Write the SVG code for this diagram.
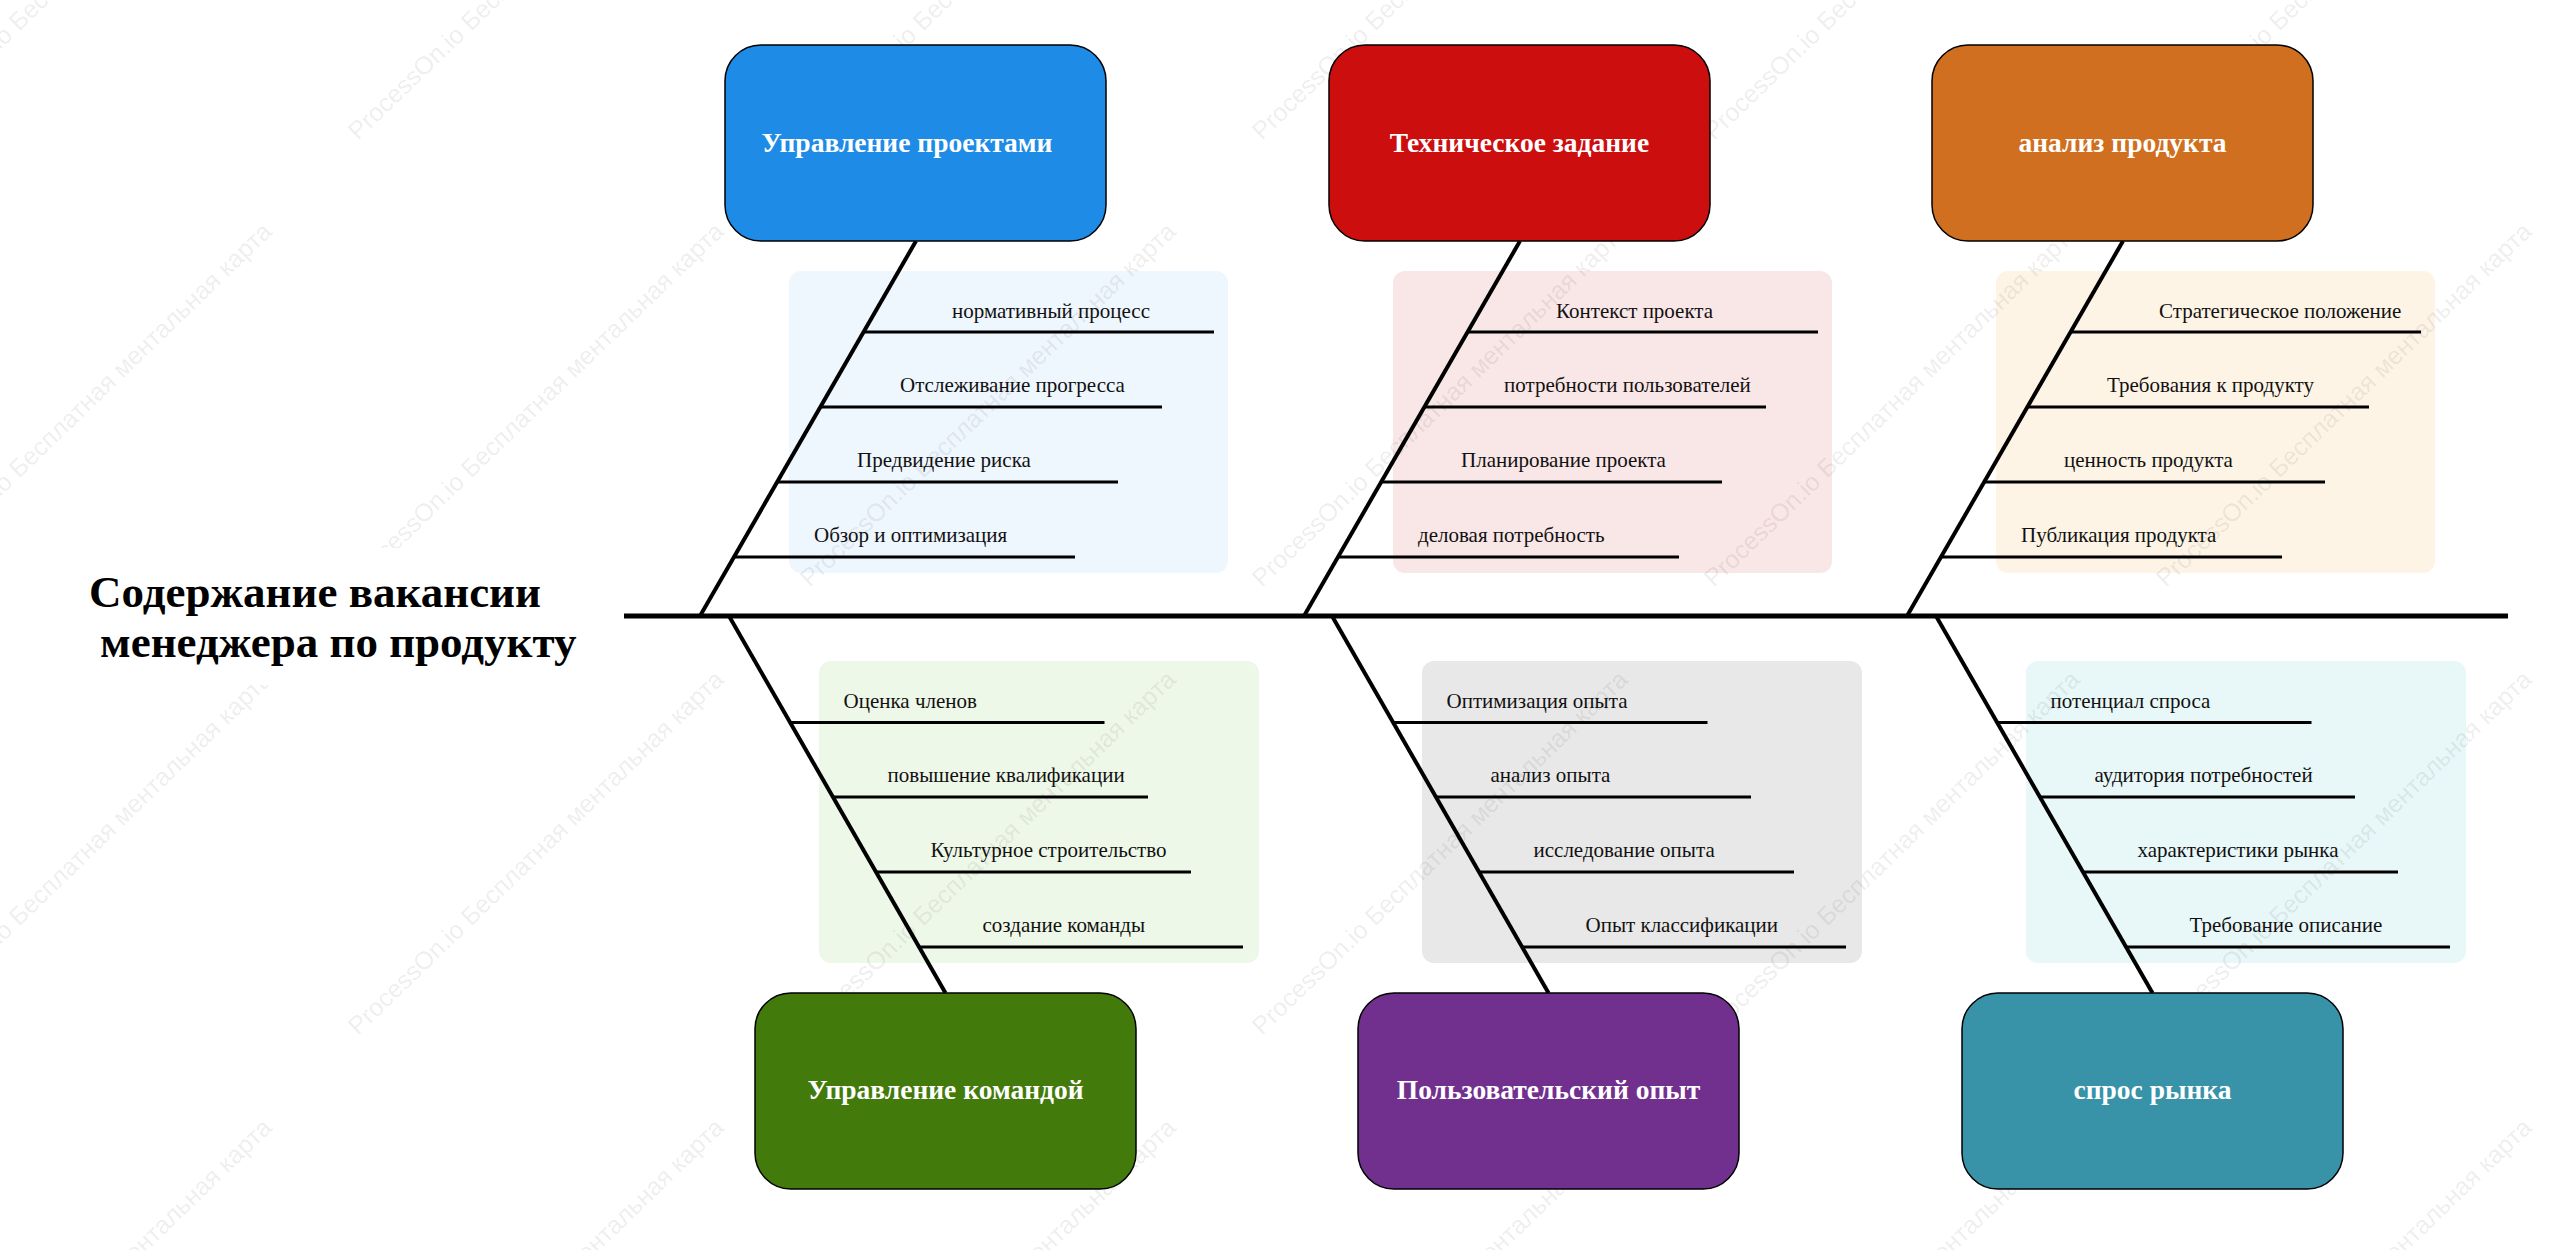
<svg xmlns="http://www.w3.org/2000/svg" width="2554" height="1250" viewBox="0 0 2554 1250">
<style>
.panel{stroke:none}
.item{font-family:"Liberation Serif","Times New Roman",serif;font-size:21px;fill:#111}
.box{stroke:#000;stroke-width:1.5}
.label{font-family:"Liberation Serif","Times New Roman",serif;font-size:27.5px;font-weight:bold;fill:#fff;text-anchor:middle}
.wm{font-family:"Liberation Sans",Arial,sans-serif;font-size:25px;fill:#000;fill-opacity:0.085}
.spine{stroke:#000;stroke-width:5;fill:none}
.bone{stroke:#000;stroke-width:4;fill:none}
.rib{stroke:#000;stroke-width:3;fill:none}
.title{font-family:"Liberation Serif","Times New Roman",serif;font-size:45px;font-weight:bold;fill:#000}
</style>
<rect x="0" y="0" width="2554" height="1250" fill="#fff"/>

<!-- item panels -->
<g id="items-project-management">
<rect class="panel" x="789" y="271" width="439" height="302" rx="12" fill="#EEF6FE"/>
<text class="item" x="952" y="318">нормативный процесс</text>
<text class="item" x="900" y="392">Отслеживание прогресса</text>
<text class="item" x="857" y="467">Предвидение риска</text>
<text class="item" x="814" y="542">Обзор и оптимизация</text>
</g>
<g id="items-technical-spec">
<rect class="panel" x="1393" y="271" width="439" height="302" rx="12" fill="#F9E6E6"/>
<text class="item" x="1556" y="318">Контекст проекта</text>
<text class="item" x="1504" y="392">потребности пользователей</text>
<text class="item" x="1461" y="467">Планирование проекта</text>
<text class="item" x="1418" y="542">деловая потребность</text>
</g>
<g id="items-product-analysis">
<rect class="panel" x="1996" y="271" width="439" height="302" rx="12" fill="#FDF4E6"/>
<text class="item" x="2159" y="318">Стратегическое положение</text>
<text class="item" x="2107" y="392">Требования к продукту</text>
<text class="item" x="2064" y="467">ценность продукта</text>
<text class="item" x="2021" y="542">Публикация продукта</text>
</g>
<g id="items-team-management">
<rect class="panel" x="819" y="661" width="440" height="302" rx="12" fill="#EEF8E8"/>
<text class="item" x="843.5" y="708">Оценка членов</text>
<text class="item" x="887.5" y="782">повышение квалификации</text>
<text class="item" x="930.5" y="857">Культурное строительство</text>
<text class="item" x="982.5" y="932">создание команды</text>
</g>
<g id="items-user-experience">
<rect class="panel" x="1422" y="661" width="440" height="302" rx="12" fill="#E8E8E8"/>
<text class="item" x="1446.5" y="708">Оптимизация опыта</text>
<text class="item" x="1490.5" y="782">анализ опыта</text>
<text class="item" x="1533.5" y="857">исследование опыта</text>
<text class="item" x="1585.5" y="932">Опыт классификации</text>
</g>
<g id="items-market-demand">
<rect class="panel" x="2026" y="661" width="440" height="302" rx="12" fill="#E8F7F8"/>
<text class="item" x="2050.5" y="708">потенциал спроса</text>
<text class="item" x="2094.5" y="782">аудитория потребностей</text>
<text class="item" x="2137.5" y="857">характеристики рынка</text>
<text class="item" x="2189.5" y="932">Требование описание</text>
</g>

<!-- watermark -->
<g id="watermark">
<text class="wm" transform="translate(-94,141) rotate(-44)">ProcessOn.io Бесплатная ментальная карта</text>
<text class="wm" transform="translate(358,141) rotate(-44)">ProcessOn.io Бесплатная ментальная карта</text>
<text class="wm" transform="translate(810,141) rotate(-44)">ProcessOn.io Бесплатная ментальная карта</text>
<text class="wm" transform="translate(1262,141) rotate(-44)">ProcessOn.io Бесплатная ментальная карта</text>
<text class="wm" transform="translate(1714,141) rotate(-44)">ProcessOn.io Бесплатная ментальная карта</text>
<text class="wm" transform="translate(2166,141) rotate(-44)">ProcessOn.io Бесплатная ментальная карта</text>
<text class="wm" transform="translate(-94,588) rotate(-44)">ProcessOn.io Бесплатная ментальная карта</text>
<text class="wm" transform="translate(358,588) rotate(-44)">ProcessOn.io Бесплатная ментальная карта</text>
<text class="wm" transform="translate(810,588) rotate(-44)">ProcessOn.io Бесплатная ментальная карта</text>
<text class="wm" transform="translate(1262,588) rotate(-44)">ProcessOn.io Бесплатная ментальная карта</text>
<text class="wm" transform="translate(1714,588) rotate(-44)">ProcessOn.io Бесплатная ментальная карта</text>
<text class="wm" transform="translate(2166,588) rotate(-44)">ProcessOn.io Бесплатная ментальная карта</text>
<text class="wm" transform="translate(-94,1036) rotate(-44)">ProcessOn.io Бесплатная ментальная карта</text>
<text class="wm" transform="translate(358,1036) rotate(-44)">ProcessOn.io Бесплатная ментальная карта</text>
<text class="wm" transform="translate(810,1036) rotate(-44)">ProcessOn.io Бесплатная ментальная карта</text>
<text class="wm" transform="translate(1262,1036) rotate(-44)">ProcessOn.io Бесплатная ментальная карта</text>
<text class="wm" transform="translate(1714,1036) rotate(-44)">ProcessOn.io Бесплатная ментальная карта</text>
<text class="wm" transform="translate(2166,1036) rotate(-44)">ProcessOn.io Бесплатная ментальная карта</text>
<text class="wm" transform="translate(-94,1484) rotate(-44)">ProcessOn.io Бесплатная ментальная карта</text>
<text class="wm" transform="translate(358,1484) rotate(-44)">ProcessOn.io Бесплатная ментальная карта</text>
<text class="wm" transform="translate(810,1484) rotate(-44)">ProcessOn.io Бесплатная ментальная карта</text>
<text class="wm" transform="translate(1262,1484) rotate(-44)">ProcessOn.io Бесплатная ментальная карта</text>
<text class="wm" transform="translate(1714,1484) rotate(-44)">ProcessOn.io Бесплатная ментальная карта</text>
<text class="wm" transform="translate(2166,1484) rotate(-44)">ProcessOn.io Бесплатная ментальная карта</text>
</g>

<!-- connectors -->
<g id="connectors">
<line class="spine" x1="624" y1="616" x2="2508" y2="616"/>
<line class="bone" x1="916" y1="241" x2="700" y2="616"/>
<line class="bone" x1="1520" y1="241" x2="1304" y2="616"/>
<line class="bone" x1="2123" y1="241" x2="1907" y2="616"/>
<line class="bone" x1="729" y1="616" x2="945.5" y2="993"/>
<line class="bone" x1="1332" y1="616" x2="1548.5" y2="993"/>
<line class="bone" x1="1936" y1="616" x2="2152.5" y2="993"/>
<line class="rib" x1="864" y1="332" x2="1214" y2="332"/>
<line class="rib" x1="821" y1="407" x2="1162" y2="407"/>
<line class="rib" x1="777" y1="482" x2="1118" y2="482"/>
<line class="rib" x1="734" y1="557" x2="1075" y2="557"/>
<line class="rib" x1="1468" y1="332" x2="1818" y2="332"/>
<line class="rib" x1="1425" y1="407" x2="1766" y2="407"/>
<line class="rib" x1="1381" y1="482" x2="1722" y2="482"/>
<line class="rib" x1="1338" y1="557" x2="1679" y2="557"/>
<line class="rib" x1="2071" y1="332" x2="2421" y2="332"/>
<line class="rib" x1="2028" y1="407" x2="2369" y2="407"/>
<line class="rib" x1="1984" y1="482" x2="2325" y2="482"/>
<line class="rib" x1="1941" y1="557" x2="2282" y2="557"/>
<line class="rib" x1="789.5" y1="722.5" x2="1104.5" y2="722.5"/>
<line class="rib" x1="833" y1="797" x2="1148" y2="797"/>
<line class="rib" x1="876" y1="872" x2="1191" y2="872"/>
<line class="rib" x1="919" y1="947" x2="1243" y2="947"/>
<line class="rib" x1="1392.5" y1="722.5" x2="1707.5" y2="722.5"/>
<line class="rib" x1="1436" y1="797" x2="1751" y2="797"/>
<line class="rib" x1="1479" y1="872" x2="1794" y2="872"/>
<line class="rib" x1="1522" y1="947" x2="1846" y2="947"/>
<line class="rib" x1="1996.5" y1="722.5" x2="2311.5" y2="722.5"/>
<line class="rib" x1="2040" y1="797" x2="2355" y2="797"/>
<line class="rib" x1="2083" y1="872" x2="2398" y2="872"/>
<line class="rib" x1="2126" y1="947" x2="2450" y2="947"/>
</g>

<!-- category nodes -->
<g id="node-project-management">
<rect class="box" x="725" y="45" width="381" height="196" rx="36" fill="#1E8BE6"/>
<text class="label" x="907" y="152">Управление проектами</text>
</g>
<g id="node-technical-spec">
<rect class="box" x="1329" y="45" width="381" height="196" rx="36" fill="#CC0E0F"/>
<text class="label" x="1519.5" y="152">Техническое задание</text>
</g>
<g id="node-product-analysis">
<rect class="box" x="1932" y="45" width="381" height="196" rx="36" fill="#D06F1F"/>
<text class="label" x="2122.5" y="152">анализ продукта</text>
</g>
<g id="node-team-management">
<rect class="box" x="755" y="993" width="381" height="196" rx="36" fill="#437A0C"/>
<text class="label" x="945.5" y="1099">Управление командой</text>
</g>
<g id="node-user-experience">
<rect class="box" x="1358" y="993" width="381" height="196" rx="36" fill="#72308E"/>
<text class="label" x="1548.5" y="1099">Пользовательский опыт</text>
</g>
<g id="node-market-demand">
<rect class="box" x="1962" y="993" width="381" height="196" rx="36" fill="#3892A8"/>
<text class="label" x="2152.5" y="1099">спрос рынка</text>
</g>

<!-- head / title -->
<g id="node-title">
<rect x="75" y="548" width="530" height="137" fill="#fff"/>
<text class="title" x="89" y="607">Содержание вакансии</text>
<text class="title" x="100" y="657">менеджера по продукту</text>
</g>
</svg>
